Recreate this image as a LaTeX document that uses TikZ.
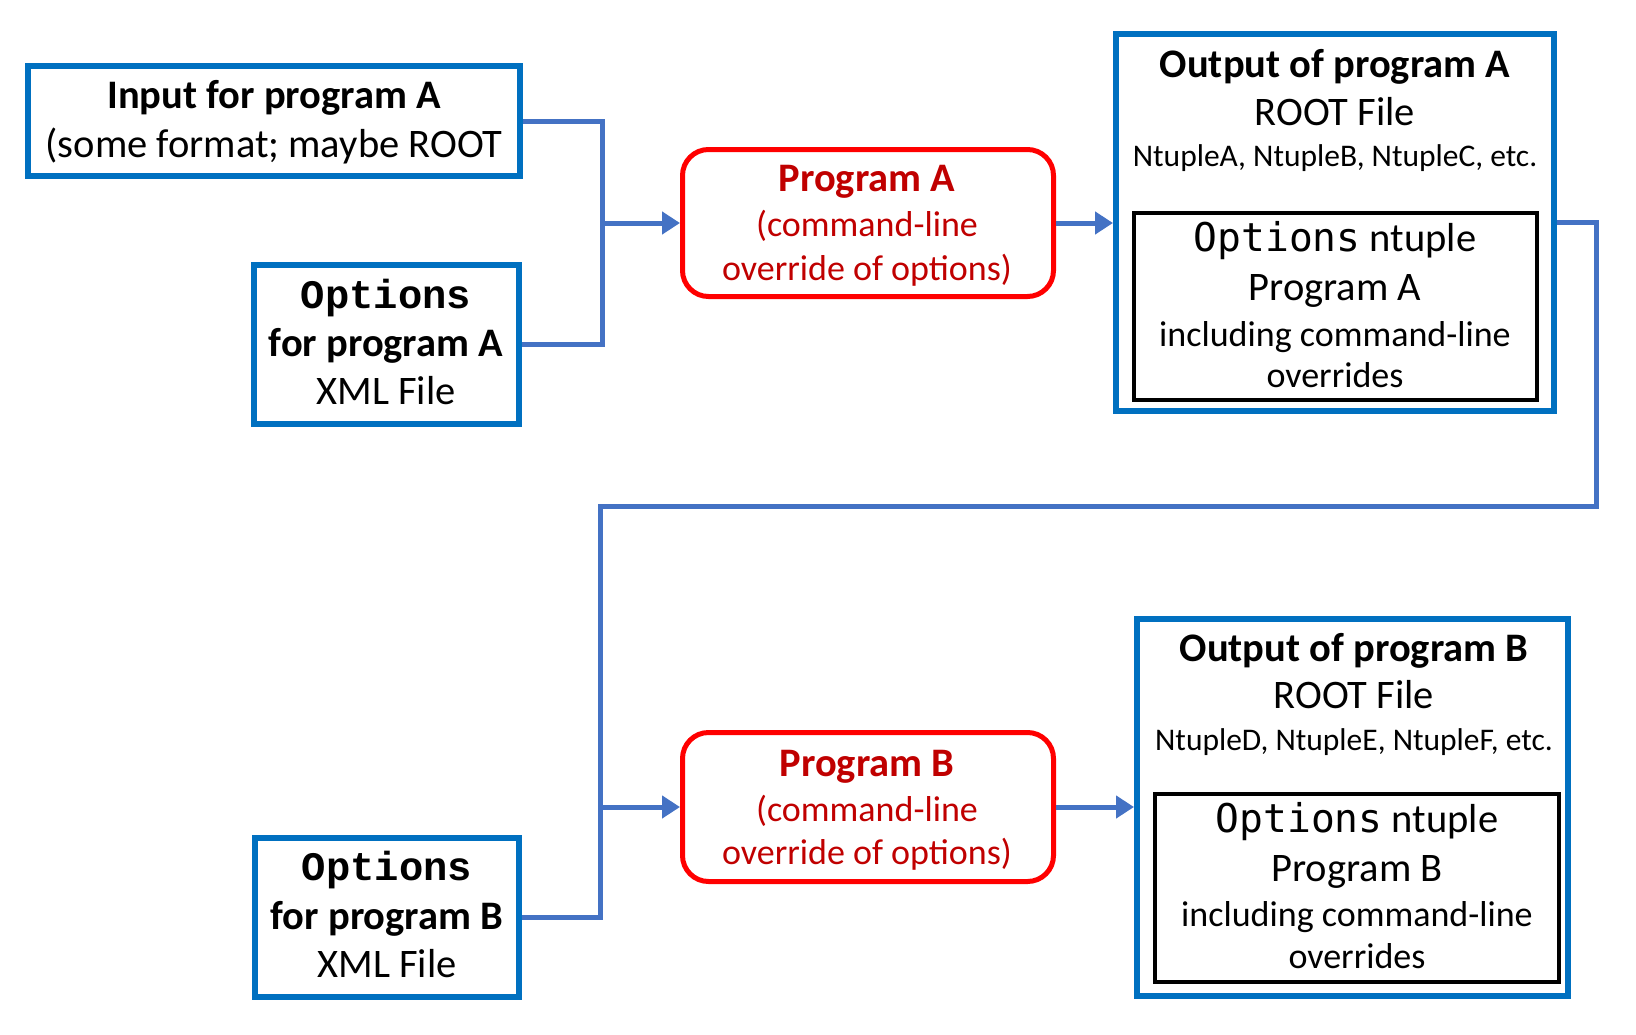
\documentclass[tikz,border=0pt]{standalone}
\usepackage{fontspec}
\setmainfont{Carlito}
\newfontfamily\courf{Liberation Mono}
\newfontfamily\consf{DejaVu Sans Mono}
\usetikzlibrary{arrows.meta}
\definecolor{boxblue}{HTML}{0070C0}
\definecolor{lineblue}{HTML}{4472C4}
\definecolor{progred}{HTML}{FF0000}
\definecolor{txtred}{HTML}{C00000}
\begin{document}
\begin{tikzpicture}[x=1pt,y=-1pt,
  bluebox/.style={draw=boxblue, line width=6pt, rectangle, inner sep=0pt},
  progbox/.style={draw=progred, line width=5pt, rectangle, rounded corners=26pt, inner sep=0pt},
  innerbox/.style={draw=black, line width=4pt, rectangle, inner sep=0pt},
  conn/.style={draw=lineblue, line width=5pt},
  arr/.style={conn, -{Triangle[length=18pt,width=22pt]}},
  txt/.style={inner sep=0pt, text height=0.65em, text depth=0pt, anchor=center},
  big/.style={txt, font=\fontsize{40.5}{46}\selectfont},
  bigb/.style={txt, font=\fontsize{40.5}{46}\selectfont\bfseries},
  mid/.style={txt, font=\fontsize{36}{42}\selectfont},
  small/.style={txt, font=\fontsize{31.5}{36}\selectfont},
  monob/.style={txt, font=\fontsize{40.5}{46}\selectfont\courf\bfseries},
  monor/.style={font=\fontsize{39.6}{46}\selectfont\consf},
]
\useasboundingbox (0,0) rectangle (1636,1034);

% boxes
\node[bluebox, minimum width=492pt, minimum height=110pt] (inA) at (274,121) {};
\node[bluebox, minimum width=265pt, minimum height=159pt] (optA) at (386.5,344.5) {};
\node[progbox, minimum width=371pt, minimum height=147pt] (progA) at (868,223) {};
\node[bluebox, minimum width=438pt, minimum height=377pt] (outA) at (1335,222.5) {};
\node[innerbox, minimum width=403pt, minimum height=187pt] (inrA) at (1335.5,306.5) {};

\node[bluebox, minimum width=264pt, minimum height=159pt] (optB) at (387,917.5) {};
\node[progbox, minimum width=371pt, minimum height=149pt] (progB) at (868,807) {};
\node[bluebox, minimum width=431pt, minimum height=377pt] (outB) at (1352.5,807.5) {};
\node[innerbox, minimum width=404pt, minimum height=188pt] (inrB) at (1357,888) {};

% texts: input A
\node[bigb] (tinA1) at (274,105) {Input for program A};
\node[big] (tinA2) at (274,154) {(some format; maybe ROOT};
% options A
\node[monob] (toA1) at (386,305) {Options};
\node[bigb] (toA2) at (386,353) {for program A};
\node[big] (toA3) at (386,401) {XML File};
% program A
\node[bigb, text=txtred] (tpA1) at (867,188) {Program A};
\node[mid, text=txtred] (tpA2) at (867,233) {(command-line};
\node[mid, text=txtred] (tpA3) at (867,277) {override of options)};
% output A
\node[bigb] (toutA1) at (1335,74) {Output of program A};
\node[big] (toutA2) at (1335,122) {ROOT File};
\node[small] (toutA3) at (1335,163) {NtupleA, NtupleB, NtupleC, etc.};
\node[big] (tiA1) at (1335,248) {{\consf\fontsize{39.6}{46}\selectfont Options} ntuple};
\node[big] (tiA2) at (1335,297) {Program A};
\node[mid] (tiA3) at (1335,343) {including command-line};
\node[mid] (tiA4) at (1335,384) {overrides};
% options B
\node[monob] (toB1) at (387,877) {Options};
\node[bigb] (toB2) at (387,926) {for program B};
\node[big] (toB3) at (387,974) {XML File};
% program B
\node[bigb, text=txtred] (tpB1) at (867,773) {Program B};
\node[mid, text=txtred] (tpB2) at (867,818) {(command-line};
\node[mid, text=txtred] (tpB3) at (867,861) {override of options)};
% output B
\node[bigb] (toutB1) at (1354,658) {Output of program B};
\node[big] (toutB2) at (1354,705) {ROOT File};
\node[small] (toutB3) at (1354,747) {NtupleD, NtupleE, NtupleF, etc.};
\node[big] (tiB1) at (1357,829) {{\consf\fontsize{39.6}{46}\selectfont Options} ntuple};
\node[big] (tiB2) at (1357,878) {Program B};
\node[mid] (tiB3) at (1357,923) {including command-line};
\node[mid] (tiB4) at (1357,965) {overrides};

% connectors
\coordinate (busA) at (602,223);
\coordinate (rt) at (1596,506);
\coordinate (busB) at (600,807);
\draw[conn] (inA.east) -| (busA) |- (optA.east);
\draw[arr] (busA) -- (progA.west);
\draw[arr] (progA.east) -- (progA.east -| outA.west);
\draw[conn] (outA.east) -| (rt) -| (busB);
\draw[conn] (optB.east) -| (busB);
\draw[arr] (busB) -- (progB.west);
\draw[arr] (progB.east) -- (progB.east -| outB.west);
\end{tikzpicture}
\end{document}
